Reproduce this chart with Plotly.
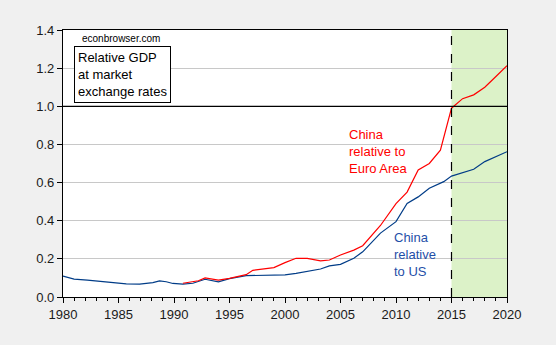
import plotly.graph_objects as go

# China relative to US (blue)
us_years = [1980.0, 1981.0, 1982.2, 1983.4, 1984.6, 1985.7, 1986.9, 1988.1, 1988.7, 1989.3, 1989.9, 1990.8,
            1991.7, 1992.8, 1994.0, 1995.0, 1996.5, 1997.5, 1999.0, 2000.0, 2001.0, 2002.0, 2003.2, 2004.0,
            2005.0, 2006.2, 2007.0, 2008.6, 2010.0, 2011.0, 2012.0, 2013.0, 2014.3, 2015.0, 2016.0, 2017.0,
            2018.0, 2019.0, 2020.0]
us_vals = [0.110, 0.094, 0.089, 0.082, 0.075, 0.069, 0.068, 0.075, 0.084, 0.080, 0.071, 0.068,
           0.072, 0.093, 0.079, 0.096, 0.112, 0.113, 0.113, 0.116, 0.124, 0.133, 0.147, 0.163,
           0.171, 0.203, 0.237, 0.335, 0.395, 0.490, 0.525, 0.570, 0.605, 0.634, 0.654, 0.670,
           0.710, 0.736, 0.762]

# China relative to Euro Area (red)
ea_years = [1990.8, 1992.2, 1992.8, 1993.5, 1994.0, 1995.0, 1996.5, 1997.1, 1999.0, 2000.0, 2001.0,
            2002.0, 2003.2, 2004.0, 2005.0, 2006.2, 2007.0, 2008.6, 2010.0, 2011.0, 2012.0, 2013.0,
            2014.0, 2015.0, 2016.0, 2017.0, 2018.0, 2019.0, 2020.0]
ea_vals = [0.072, 0.085, 0.100, 0.092, 0.089, 0.098, 0.117, 0.140, 0.154, 0.180, 0.203,
           0.203, 0.189, 0.194, 0.220, 0.246, 0.269, 0.375, 0.490, 0.550, 0.666, 0.700,
           0.770, 0.990, 1.040, 1.060, 1.100, 1.156, 1.213]

x_ticks = [1980, 1985, 1990, 1995, 2000, 2005, 2010, 2015, 2020]
y_ticks = [0.0, 0.2, 0.4, 0.6, 0.8, 1.0, 1.2, 1.4]
shade_start, shade_end = 2015, 2020

BLUE = "#003C87"
RED = "#FF0000"

fig = go.Figure()
fig.add_trace(go.Scatter(x=us_years, y=us_vals, mode="lines", line=dict(color=BLUE, width=1.2),
                         showlegend=False, hoverinfo="skip"))
fig.add_trace(go.Scatter(x=ea_years, y=ea_vals, mode="lines", line=dict(color=RED, width=1.2),
                         showlegend=False, hoverinfo="skip"))

fig.add_vrect(x0=shade_start, x1=shade_end, fillcolor="#DCF2C8", line_width=0, layer="below")
fig.add_shape(type="line", x0=shade_start, x1=shade_start, y0=0, y1=1, yref="paper",
              line=dict(color="black", width=1.2, dash="dash"))
fig.add_shape(type="line", x0=0, x1=1, xref="paper", y0=1.0, y1=1.0,
              line=dict(color="black", width=1.2))

FONT = "Liberation Sans, Arial, sans-serif"

fig.update_layout(
    width=556, height=345,
    margin=dict(l=63, r=49, t=30, b=48),
    paper_bgcolor="#F0F0F0", plot_bgcolor="white",
    font=dict(family=FONT, size=13, color="#1a1a1a"),
    xaxis=dict(range=[1980, 2020], tickvals=x_ticks, ticks="outside", ticklen=5, tickcolor="black",
               showgrid=False, zeroline=False, showline=True, linecolor="black", linewidth=1.2, mirror=True,
               minor=dict(dtick=1, tick0=1980, ticks="outside", ticklen=3, tickcolor="black", showgrid=False)),
    yaxis=dict(range=[0, 1.4], tickvals=y_ticks, tickformat=".1f", ticks="outside", ticklen=5,
               tickcolor="black", showgrid=True, gridcolor="#C8C8C8", gridwidth=1, zeroline=False,
               showline=True, linecolor="black", linewidth=1.2, mirror=True),
    annotations=[
        dict(x=0.038, y=0.97, xref="paper", yref="paper", xanchor="left", yanchor="middle",
             text="econbrowser.com", showarrow=False, font=dict(size=10, color="black")),
        dict(x=0.024, y=0.94, xref="paper", yref="paper", xanchor="left", yanchor="top",
             text="Relative GDP<br>at market<br>exchange rates", showarrow=False, align="left",
             font=dict(size=13, color="black"), bordercolor="black", borderwidth=1, borderpad=3,
             bgcolor="white"),
        dict(x=2005.6, y=0.90, xanchor="left", yanchor="top",
             text="China<br>relative to<br>Euro Area", showarrow=False, align="left",
             font=dict(size=13, color=RED)),
        dict(x=2009.6, y=0.36, xanchor="left", yanchor="top",
             text="China<br>relative<br>to US", showarrow=False, align="left",
             font=dict(size=13, color="#1F4FA8")),
    ],
)

fig.write_html("out.html")
